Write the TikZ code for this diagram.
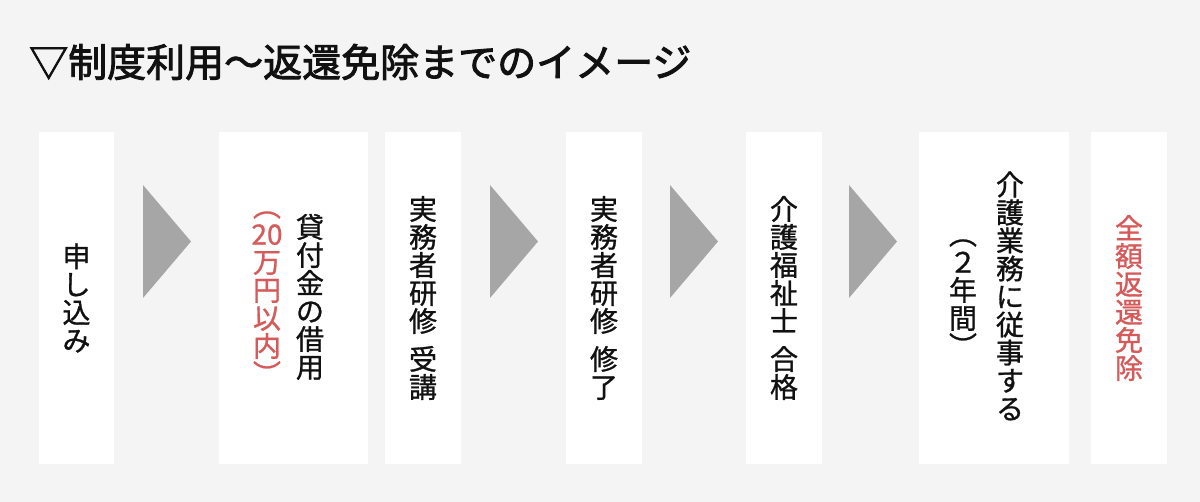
\documentclass[tikz,border=0pt]{standalone}
\usepackage{fontspec}
\newfontfamily\cjk[FakeBold=1]{Noto Sans CJK JP}
\newfontfamily\cjktitle[FakeBold=2.2]{Noto Sans CJK JP}
\definecolor{bg}{HTML}{F4F4F4}
\definecolor{arrowgray}{HTML}{A6A6A6}
\definecolor{accent}{HTML}{D65A5A}
\definecolor{ink}{HTML}{111111}
\begin{document}
\begin{tikzpicture}[x=1pt,y=-1pt,
  box/.style={fill=white,draw=none,inner sep=0pt,minimum height=332pt},
  col/.style={align=center,inner sep=0pt,text=ink,font=\cjk\fontsize{28pt}{28pt}\selectfont},
  tri/.style={fill=arrowgray,draw=none}]
\useasboundingbox (0,0) rectangle (1200,502);
\fill[bg] (0,0) rectangle (1200,502);
% title
\node[anchor=west,inner sep=0pt,text=ink,font=\cjktitle\fontsize{39pt}{39pt}\selectfont] (title) at (29,62) {▽制度利用～返還免除までのイメージ};
% boxes
\node[box,minimum width=75pt]  (b1) at (76.5,298) {};
\node[box,minimum width=149pt] (b2) at (293.5,298) {};
\node[box,minimum width=76pt]  (b3) at (423,298) {};
\node[box,minimum width=76pt]  (b4) at (604,298) {};
\node[box,minimum width=76pt]  (b5) at (784,298) {};
\node[box,minimum width=150pt] (b6) at (994,298) {};
\node[box,minimum width=76pt]  (b7) at (1129,298) {};
% arrows
\coordinate (a1) at (143,241.5);
\coordinate (a2) at (490,241.5);
\coordinate (a3) at (670,241.5);
\coordinate (a4) at (849,241.5);
\foreach \a in {a1,a2,a3,a4}{
  \fill[tri] ([yshift=-56.5pt]\a) -- ([xshift=48pt]\a) -- ([yshift=56.5pt]\a) -- cycle;
}
% texts
\node[col] (t1) at (b1) {申\\し\\込\\み};
\node[col] (t2) at (310,297) {貸\\付\\金\\の\\借\\用};
\node[col,text=accent] (t2r) at (267,298) {︵\\20\\万\\円\\以\\内\\︶};
\node[col] (t3) at (423,298) {実\\務\\者\\研\\修\\[10pt]受\\講};
\node[col] (t4) at (604,298) {実\\務\\者\\研\\修\\[10pt]修\\了};
\node[col] (t5) at (784,298) {介\\護\\福\\祉\\士\\[10pt]合\\格};
\node[col] (t6) at (1010,296) {介\\護\\業\\務\\に\\従\\事\\す\\る};
\node[col] (t6r) at (963,298) {︵\\２\\年\\間\\︶};
\node[col,text=accent] (t7) at (1129,298) {全\\額\\返\\還\\免\\除};
\end{tikzpicture}
\end{document}
